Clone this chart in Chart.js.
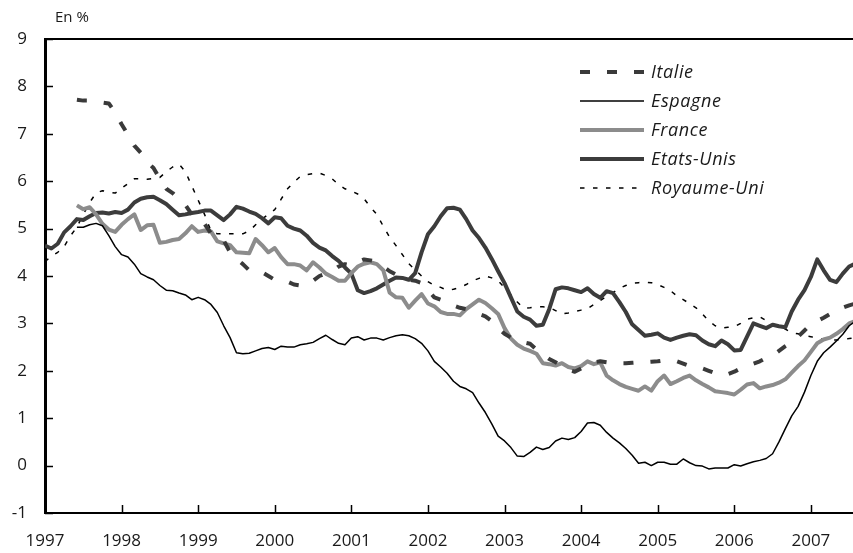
<!DOCTYPE html>
<html>
<head>
<meta charset="utf-8">
<script src="https://cdn.jsdelivr.net/npm/chart.js@4.4.1/dist/chart.umd.min.js"></script>
<style>
  html, body { margin: 0; padding: 0; background: #fff; overflow: hidden; }
  #wrap { width: 853px; height: 553px; }
</style>
</head>
<body>
<div id="wrap"><canvas id="resultChart" width="853" height="553"></canvas></div>
<script>
// monthly series, first value = January 1997
const startYear = 1997;
const yearTicks = [1997, 1998, 1999, 2000, 2001, 2002, 2003, 2004, 2005, 2006, 2007];
const yTicks = [-1, 0, 1, 2, 3, 4, 5, 6, 7, 8, 9];

const italie = [null,null,null,null,null,7.72,7.7,7.7,7.68,7.66,7.64,7.45,
  7.2,6.98,6.75,6.6,6.4,6.28,6.05,5.84,5.75,5.62,5.5,5.3,
  5.15,5.1,4.9,4.8,4.75,4.5,4.36,4.25,4.12,4.08,4.08,4.0,
  3.92,3.9,3.88,3.82,3.8,3.8,3.9,4.0,4.05,4.1,4.2,4.25,
  4.22,4.3,4.35,4.33,4.3,4.2,4.1,4.03,4.0,3.92,3.9,3.85,
  3.7,3.55,3.5,3.45,3.38,3.33,3.3,3.25,3.2,3.15,3.05,2.9,
  2.78,2.7,2.65,2.6,2.57,2.45,2.35,2.25,2.18,2.1,2.02,1.98,
  2.05,2.12,2.18,2.2,2.18,2.16,2.16,2.16,2.17,2.18,2.18,2.19,
  2.2,2.22,2.22,2.2,2.15,2.1,2.08,2.05,2.0,1.95,1.9,1.93,
  1.98,2.05,2.1,2.15,2.2,2.27,2.32,2.42,2.52,2.6,2.72,2.85,
  2.98,3.05,3.12,3.2,3.3,3.33,3.38,3.42];

const espagne = [null,null,null,null,null,5.03,5.03,5.08,5.11,5.06,4.85,4.62,
  4.45,4.4,4.25,4.05,3.98,3.92,3.8,3.7,3.69,3.64,3.6,3.5,
  3.55,3.5,3.4,3.23,2.95,2.7,2.38,2.36,2.37,2.42,2.47,2.49,
  2.45,2.52,2.5,2.5,2.55,2.57,2.6,2.68,2.75,2.66,2.58,2.55,
  2.69,2.72,2.65,2.69,2.69,2.65,2.7,2.74,2.76,2.74,2.68,2.58,
  2.42,2.2,2.08,1.95,1.78,1.67,1.62,1.54,1.32,1.12,0.88,0.62,
  0.52,0.38,0.2,0.19,0.28,0.39,0.34,0.38,0.52,0.58,0.55,0.59,
  0.72,0.9,0.91,0.85,0.7,0.58,0.48,0.36,0.22,0.05,0.07,0.0,
  0.07,0.07,0.03,0.03,0.14,0.06,0.0,-0.01,-0.07,-0.05,-0.05,-0.05,
  0.02,-0.01,0.04,0.08,0.11,0.15,0.25,0.5,0.78,1.05,1.25,1.55,
  1.9,2.2,2.38,2.5,2.63,2.77,2.95,3.05];

const france = [null,null,null,null,null,5.49,5.41,5.45,5.3,5.1,4.98,4.93,
  5.08,5.2,5.3,4.97,5.07,5.08,4.7,4.72,4.76,4.78,4.9,5.05,
  4.93,4.96,4.94,4.73,4.69,4.65,4.5,4.49,4.48,4.78,4.65,4.5,
  4.59,4.4,4.25,4.25,4.22,4.12,4.29,4.18,4.05,3.98,3.9,3.9,
  4.06,4.2,4.26,4.29,4.25,4.12,3.65,3.55,3.54,3.33,3.48,3.62,
  3.42,3.36,3.24,3.2,3.2,3.17,3.3,3.4,3.5,3.43,3.32,3.2,
  2.9,2.68,2.55,2.47,2.42,2.36,2.16,2.14,2.11,2.16,2.08,2.05,
  2.1,2.2,2.14,2.18,1.9,1.8,1.72,1.66,1.62,1.58,1.67,1.58,
  1.78,1.9,1.72,1.78,1.85,1.9,1.8,1.72,1.65,1.57,1.55,1.53,
  1.5,1.6,1.71,1.74,1.63,1.67,1.7,1.75,1.82,1.96,2.1,2.22,
  2.4,2.58,2.66,2.7,2.78,2.88,3.0,3.05];

const etatsUnis = [4.64,4.58,4.68,4.92,5.05,5.2,5.18,5.26,5.33,5.34,5.32,5.35,
  5.33,5.4,5.55,5.63,5.66,5.67,5.6,5.52,5.4,5.28,5.3,5.33,
  5.35,5.38,5.38,5.28,5.18,5.3,5.46,5.42,5.36,5.31,5.22,5.11,
  5.24,5.22,5.06,5.0,4.96,4.85,4.7,4.6,4.54,4.42,4.32,4.18,
  4.05,3.7,3.64,3.68,3.74,3.82,3.9,3.97,3.96,3.92,4.06,4.5,
  4.88,5.05,5.26,5.43,5.44,5.4,5.2,4.96,4.8,4.6,4.36,4.1,
  3.85,3.55,3.25,3.14,3.08,2.95,2.97,3.3,3.72,3.76,3.74,3.7,
  3.66,3.74,3.62,3.54,3.68,3.64,3.45,3.24,2.98,2.86,2.74,2.76,
  2.79,2.7,2.65,2.7,2.74,2.77,2.75,2.64,2.56,2.52,2.64,2.56,
  2.43,2.44,2.72,3.0,2.95,2.9,2.97,2.94,2.92,3.25,3.5,3.7,
  3.98,4.35,4.12,3.92,3.87,4.05,4.2,4.26];

const royaumeUni = [4.3,4.42,4.5,4.62,4.85,5.03,5.3,5.55,5.75,5.8,5.77,5.75,
  5.85,5.95,6.05,6.05,6.04,6.06,6.08,6.2,6.3,6.36,6.2,5.9,
  5.6,5.3,4.95,4.89,4.89,4.89,4.89,4.89,4.95,5.08,5.2,5.3,
  5.4,5.62,5.84,5.98,6.1,6.14,6.16,6.17,6.12,6.05,5.93,5.84,
  5.79,5.73,5.63,5.45,5.3,5.05,4.82,4.64,4.45,4.26,4.13,4.0,
  3.88,3.8,3.76,3.7,3.72,3.76,3.82,3.9,3.95,4.0,3.96,3.9,
  3.75,3.6,3.45,3.32,3.33,3.35,3.35,3.34,3.27,3.2,3.22,3.25,
  3.28,3.31,3.4,3.48,3.57,3.65,3.74,3.8,3.85,3.86,3.87,3.86,
  3.82,3.76,3.69,3.58,3.5,3.42,3.33,3.2,3.05,2.95,2.9,2.92,
  2.93,3.0,3.09,3.12,3.14,3.06,2.99,2.95,2.88,2.8,2.78,2.74,
  2.72,2.69,2.67,2.65,2.65,2.66,2.68,2.7];

const FONT = '"Open Sans", "DejaVu Sans", sans-serif';

function toPoints(values) {
  return values.map((v, i) => ({ x: startYear + i / 12, y: v }));
}

function series(label, values, color, width, dash) {
  return {
    label: label,
    data: toPoints(values),
    borderColor: color,
    borderWidth: width,
    borderDash: dash || [],
    borderCapStyle: 'butt',
    borderJoinStyle: 'round',
    pointRadius: 0,
    tension: 0,
    fill: false
  };
}

// ticks inside the frame, top line, unit label and legend
const decor = {
  id: 'decor',
  afterDraw(chart) {
    const { ctx, chartArea: a, scales } = chart;
    ctx.save();
    ctx.strokeStyle = '#000';
    ctx.lineWidth = 2;
    ctx.beginPath();
    ctx.moveTo(a.left, a.top);
    ctx.lineTo(a.right, a.top);
    ctx.stroke();

    ctx.lineWidth = 1.5;
    ctx.beginPath();
    yTicks.forEach(v => {
      const py = Math.round(scales.y.getPixelForValue(v)) + 0.5;
      ctx.moveTo(a.left, py);
      ctx.lineTo(a.left + 8, py);
    });
    yearTicks.forEach(v => {
      const px = Math.round(scales.x.getPixelForValue(v)) + 0.5;
      ctx.moveTo(px, a.bottom);
      ctx.lineTo(px, a.bottom - 8);
    });
    ctx.stroke();

    ctx.fillStyle = '#1a1a1a';
    ctx.font = '15px ' + FONT;
    ctx.textBaseline = 'middle';
    ctx.fillText('En %', 55, 18);

    const rows = [72, 101, 130, 159, 188];
    ctx.font = 'italic 18px ' + FONT;
    if ('letterSpacing' in ctx) ctx.letterSpacing = '0.6px';
    chart.data.datasets.forEach((ds, i) => {
      const ly = rows[i];
      ctx.save();
      ctx.strokeStyle = ds.borderColor;
      ctx.lineWidth = ds.borderWidth;
      ctx.setLineDash(ds.borderDash);
      ctx.beginPath();
      ctx.moveTo(580, ly);
      ctx.lineTo(644, ly);
      ctx.stroke();
      ctx.restore();
      ctx.fillText(ds.label, 651, ly + 1);
    });
    ctx.restore();
  }
};

new Chart(document.getElementById('resultChart').getContext('2d'), {
  type: 'line',
  data: {
    datasets: [
      series('Italie', italie, '#3a3a3a', 4, [10, 17]),
      series('Espagne', espagne, '#000000', 1.5),
      series('France', france, '#8c8c8c', 4),
      series('Etats-Unis', etatsUnis, '#3c3c3c', 4),
      series('Royaume-Uni', royaumeUni, '#000000', 1.5, [4.5, 8.5])
    ]
  },
  options: {
    responsive: false,
    animation: false,
    layout: { padding: { top: 39, right: 0, left: 0, bottom: 0 } },
    plugins: {
      legend: { display: false },
      tooltip: { enabled: false }
    },
    scales: {
      x: {
        type: 'linear',
        min: startYear,
        max: startYear + 126.6 / 12,
        afterBuildTicks: s => { s.ticks = yearTicks.map(v => ({ value: v })); },
        afterFit: s => { s.height = 40; },
        grid: { display: false, drawTicks: false },
        border: { display: true, color: '#000', width: 2 },
        ticks: {
          autoSkip: false,
          maxRotation: 0,
          padding: 18,
          color: '#1a1a1a',
          font: { family: FONT, size: 17 },
          callback: v => String(v)
        }
      },
      y: {
        min: -1,
        max: 9,
        afterBuildTicks: s => { s.ticks = yTicks.map(v => ({ value: v })); },
        afterFit: s => { s.width = 45; },
        grid: { display: false, drawTicks: false },
        border: { display: true, color: '#000', width: 3 },
        ticks: {
          padding: 18,
          color: '#1a1a1a',
          font: { family: FONT, size: 17 }
        }
      }
    }
  },
  plugins: [decor]
});
</script>
</body>
</html>
